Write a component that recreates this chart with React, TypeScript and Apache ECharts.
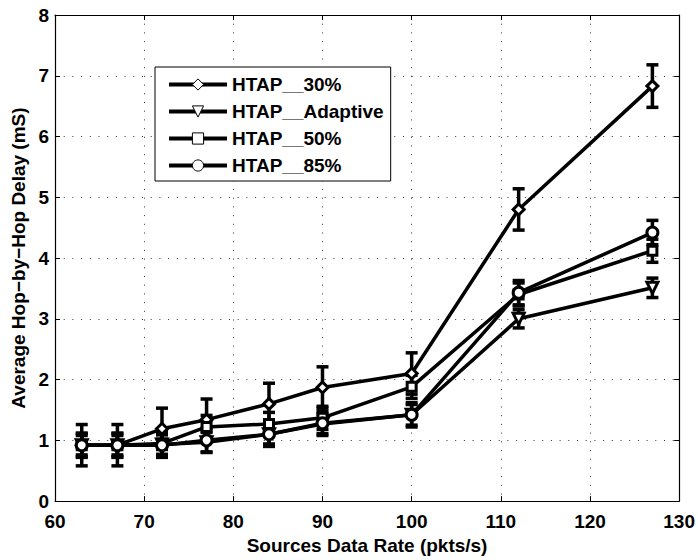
import React, { useEffect, useRef } from "react";
import * as echarts from "echarts";

const xRates = [63, 67, 72, 77, 84, 90, 100, 112, 127];
const seriesNames = ["HTAP__30%", "HTAP__Adaptive", "HTAP__50%", "HTAP__85%"];
const htap30 = [0.92, 0.92, 1.19, 1.34, 1.6, 1.87, 2.1, 4.8, 6.83];
const htap30Err = [0.34, 0.34, 0.34, 0.34, 0.34, 0.34, 0.34, 0.34, 0.35];
const adaptive = [0.92, 0.92, 0.93, 0.97, 1.1, 1.27, 1.42, 3.0, 3.51];
const adaptiveErr = [0.16, 0.16, 0.16, 0.16, 0.16, 0.16, 0.17, 0.15, 0.16];
const htap50 = [0.92, 0.92, 0.95, 1.22, 1.27, 1.37, 1.88, 3.4, 4.12];
const htap50Err = [0.19, 0.19, 0.19, 0.19, 0.19, 0.19, 0.19, 0.19, 0.19];
const htap85 = [0.92, 0.92, 0.92, 1.0, 1.1, 1.28, 1.42, 3.43, 4.42];
const htap85Err = [0.2, 0.2, 0.2, 0.2, 0.2, 0.2, 0.2, 0.2, 0.2];
const xTicks = { min: 60, max: 130, interval: 10 };
const yTicks = { min: 0, max: 8, interval: 1 };

const FONT = "'Liberation Sans', Arial, sans-serif";
const valuesList = [htap30, adaptive, htap50, htap85];
const errList = [htap30Err, adaptiveErr, htap50Err, htap85Err];
const symbols = ["diamond", "path://M0 0L20 0L10 20Z", "rect", "circle"];

export default function App() {
  const ref = useRef<HTMLDivElement>(null);
  useEffect(() => {
    if (!ref.current) return;
    const chart = echarts.init(ref.current, null, { renderer: "svg" });
    const gridLine = { show: true, lineStyle: { color: "#333", width: 1, type: [1, 7.7] } };
    const axisCommon = {
      type: "value",
      axisLine: { show: true, onZero: false, lineStyle: { color: "#000", width: 1.2 } },
      axisTick: { show: true, inside: true, length: 5, lineStyle: { color: "#000", width: 1 } },
    };
    const lineSeries = seriesNames.map((name, i) => ({
      name,
      type: "line",
      data: xRates.map((x, j) => [x, valuesList[i][j]]),
      symbol: symbols[i],
      symbolSize: i === 2 ? 9 : 11,
      lineStyle: { color: "#000", width: 3.5 },
      itemStyle: { color: "#fff", borderColor: "#000", borderWidth: 3 },
      z: 3,
    }));
    const errSeries = seriesNames.map((name, i) => ({
      name: name + "_err",
      type: "custom",
      data: xRates.map((x, j) => [x, valuesList[i][j], errList[i][j]]),
      encode: { x: 0, y: 1 },
      z: 2,
      renderItem: (params: any, api: any) => {
        const x = api.value(0);
        const y = api.value(1);
        const e = api.value(2);
        const top = api.coord([x, y + e]);
        const bot = api.coord([x, y - e]);
        const hw = 6;
        const st = { stroke: "#000", lineWidth: 3.5 };
        return {
          type: "group",
          children: [
            { type: "line", shape: { x1: top[0], y1: top[1], x2: bot[0], y2: bot[1] }, style: st },
            { type: "line", shape: { x1: top[0] - hw, y1: top[1], x2: top[0] + hw, y2: top[1] }, style: st },
            { type: "line", shape: { x1: bot[0] - hw, y1: bot[1], x2: bot[0] + hw, y2: bot[1] }, style: st },
          ],
        };
      },
    }));
    chart.setOption({
      animation: false,
      backgroundColor: "#fff",
      grid: { left: 55, right: 18, top: 15, bottom: 52, containLabel: false },
      legend: {
        data: seriesNames,
        orient: "vertical",
        left: 155,
        top: 67,
        padding: [8, 7, 6, 12],
        itemGap: 8,
        itemWidth: 58,
        itemHeight: 14,
        backgroundColor: "#fff",
        borderColor: "#000",
        borderWidth: 1,
        borderRadius: 0,
        textStyle: { fontFamily: FONT, fontSize: 19, fontWeight: "bold", color: "#000" },
        itemStyle: { color: "#fff", borderColor: "#000", borderWidth: 1 },
        lineStyle: { color: "#000", width: 4 },
      },
      xAxis: [
        {
          ...axisCommon,
          position: "bottom",
          ...xTicks,
          splitLine: gridLine,
          axisLabel: { margin: 11, fontFamily: FONT, fontSize: 19, fontWeight: "bold", color: "#000" },
          name: "Sources Data Rate (pkts/s)",
          nameLocation: "middle",
          nameGap: 27,
          nameTextStyle: { fontFamily: FONT, fontSize: 19, fontWeight: "bold", color: "#000" },
        },
        {
          ...axisCommon,
          position: "top",
          ...xTicks,
          splitLine: { show: false },
          axisLabel: { show: false },
        },
      ],
      yAxis: [
        {
          ...axisCommon,
          position: "left",
          ...yTicks,
          splitLine: gridLine,
          axisLabel: { margin: 6, fontFamily: FONT, fontSize: 19, fontWeight: "bold", color: "#000" },
          name: "Average Hop\u2212by\u2212Hop Delay (mS)",
          nameLocation: "middle",
          nameGap: 27,
          nameTextStyle: { fontFamily: FONT, fontSize: 19, fontWeight: "bold", color: "#000" },
        },
        {
          ...axisCommon,
          position: "right",
          ...yTicks,
          splitLine: { show: false },
          axisLabel: { show: false },
        },
      ],
      series: [...errSeries, ...lineSeries],
    });
    return () => chart.dispose();
  }, []);
  return (
    <div
      ref={ref}
      style={{ position: "fixed", left: 0, top: 0, width: 698, height: 560, background: "#fff" }}
    />
  );
}
